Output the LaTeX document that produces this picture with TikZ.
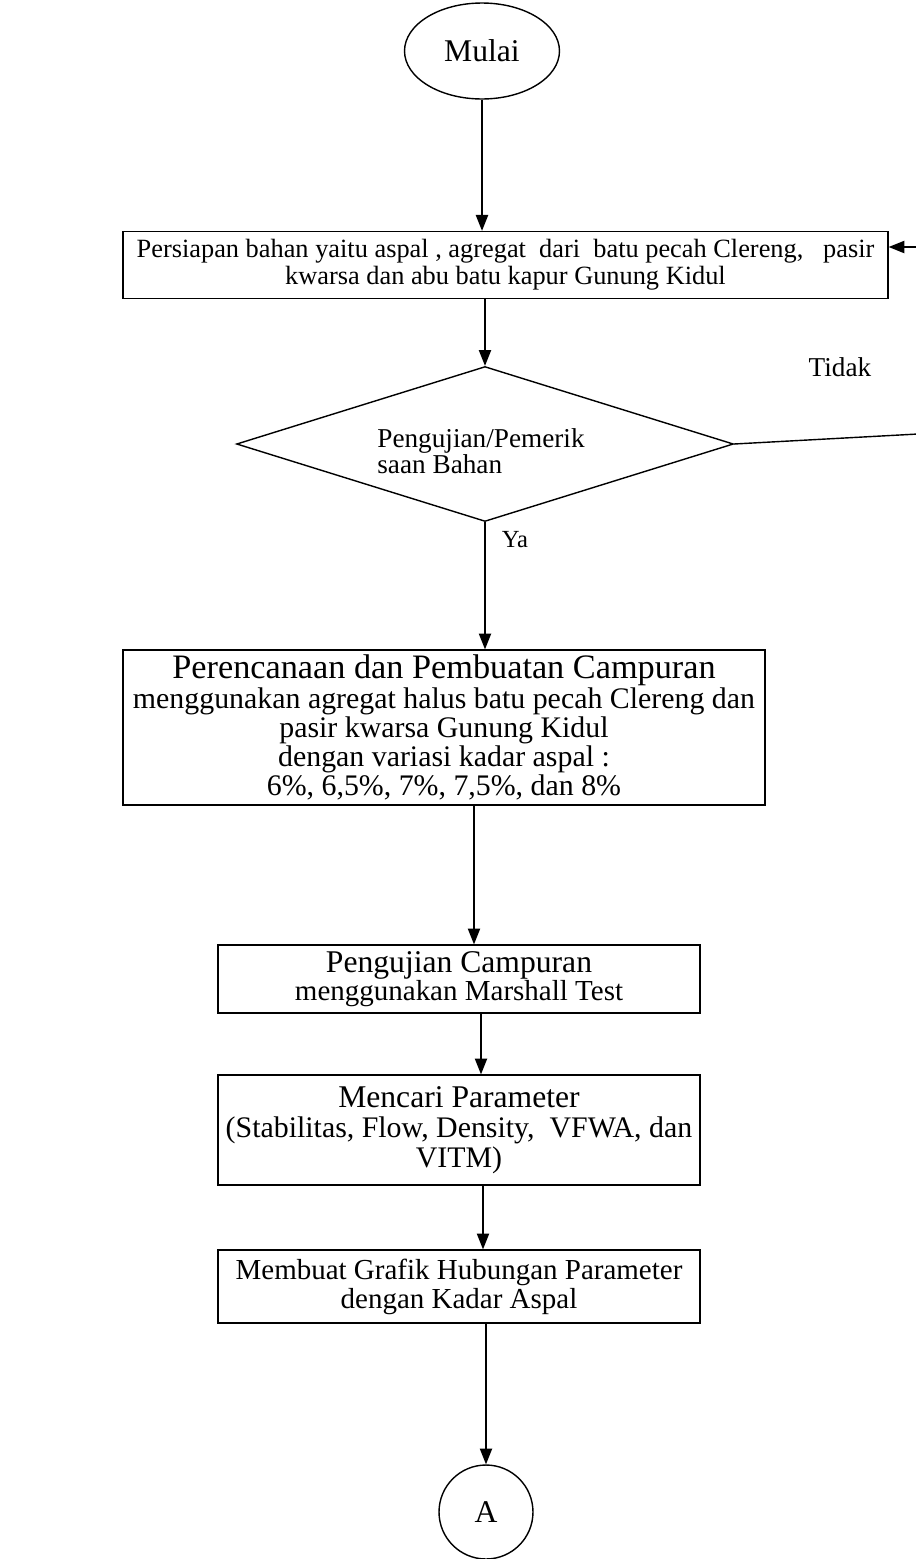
\documentclass[tikz,border=0pt]{standalone}
\usepackage{fontspec}
\setmainfont{Liberation Serif}
\usetikzlibrary{shapes.geometric,arrows.meta,calc}
\begin{document}
\begin{tikzpicture}[x=0.02cm,y=-0.02cm,
  line width=0.8pt,
  box/.style={draw,rectangle,inner sep=0pt,align=center},
  arr/.style={-{Triangle[length=9pt,width=7pt]}},
  lbl/.style={inner sep=0pt}]
\clip (0,0) rectangle (916,1559);
% start
\node[draw,ellipse,minimum width=3.1cm,minimum height=1.92cm,inner sep=0pt,
  font=\fontsize{18}{20}\selectfont] (mulai) at (482,51) {Mulai};
% box 1
\node[box,minimum width=15.3cm,minimum height=1.34cm,
  font=\fontsize{15}{15.5}\selectfont] (b1) at (505.5,265)
  {Persiapan bahan yaitu aspal , agregat\ \ dari\ \ batu pecah Clereng,\ \ \ pasir\\kwarsa dan abu batu kapur Gunung Kidul};
% decision
\node[draw,diamond,aspect=3.2,minimum width=9.94cm,minimum height=3.1cm,inner sep=0pt] (dia) at (485,444) {};
\node[lbl,align=left,font=\fontsize{15.5}{13}\selectfont] (diat) at (481,451) {Pengujian/Pemerik\\saan Bahan};
\node[lbl,font=\fontsize{15.5}{17}\selectfont] (tidak) at (840,367) {Tidak};
\node[lbl,font=\fontsize{14}{16}\selectfont] (ya) at (515,540) {Ya};
% box 2
\node[box,minimum width=12.84cm,minimum height=3.1cm,
  font=\fontsize{17}{14.2}\selectfont] (b2) at (444,727.5)
  {{\fontsize{19.5}{14.2}\selectfont Perencanaan dan Pembuatan Campuran}\\
   menggunakan agregat halus batu pecah Clereng dan\\
   pasir kwarsa Gunung Kidul\\
   dengan variasi kadar aspal :\\
   6\%, 6,5\%, 7\%, 7,5\%, dan 8\%};
% box 3
\node[box,minimum width=9.64cm,minimum height=1.36cm,
  font=\fontsize{16.5}{16}\selectfont] (b3) at (459,979)
  {{\fontsize{18}{16}\selectfont Pengujian Campuran}\\menggunakan Marshall Test};
% box 4
\node[box,minimum width=9.64cm,minimum height=2.2cm,
  font=\fontsize{17}{17}\selectfont] (b4) at (459,1130)
  {{\fontsize{18}{17}\selectfont Mencari Parameter}\\(Stabilitas, Flow, Density,\ \ VFWA, dan\\VITM)};
% box 5
\node[box,minimum width=9.64cm,minimum height=1.46cm,
  font=\fontsize{16.5}{16.5}\selectfont] (b5) at (459,1286.5)
  {Membuat Grafik Hubungan Parameter\\dengan Kadar Aspal};
% connector A
\node[draw,circle,minimum size=1.88cm,inner sep=0pt,
  font=\fontsize{18}{20}\selectfont] (ca) at (486,1512) {A};
% helper coordinates
\coordinate (x3) at (474,0);
\coordinate (x4) at (481,0);
\coordinate (x5) at (483,0);
\coordinate (fb1) at (918,434);
\coordinate (fb2) at (918,247);
% connectors
\draw[arr] (mulai.south) -- (b1.north -| mulai.south);
\draw[arr] (b1.south -| dia.north) -- (dia.north);
\draw (dia.east) -- (fb1) -- (fb2);
\draw[arr] (fb2) -- (fb2 -| b1.east);
\draw[arr] (dia.south) -- (b2.north -| dia.south);
\draw[arr] (b2.south -| x3) -- (b3.north -| x3);
\draw[arr] (b3.south -| x4) -- (b4.north -| x4);
\draw[arr] (b4.south -| x5) -- (b5.north -| x5);
\draw[arr] (b5.south -| ca.north) -- (ca.north);
\end{tikzpicture}
\end{document}
